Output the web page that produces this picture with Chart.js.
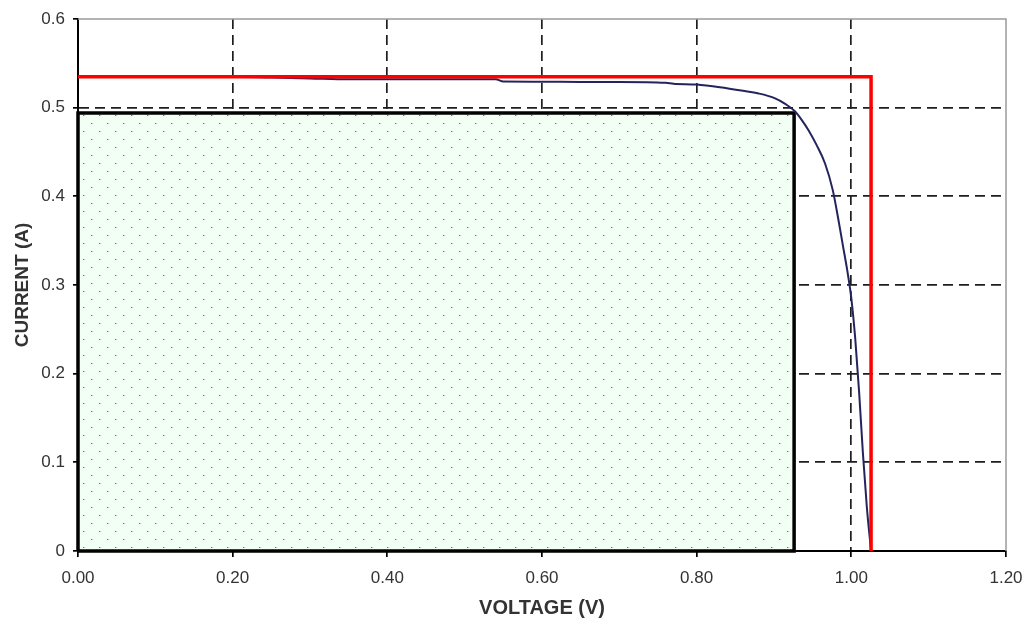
<!DOCTYPE html>
<html>
<head>
<meta charset="utf-8">
<script src="https://cdn.jsdelivr.net/npm/chart.js@4/dist/chart.umd.min.js"></script>
<style>
  html, body { margin: 0; padding: 0; background: #ffffff; }
  #wrap { width: 1027px; height: 623px; position: relative; }
</style>
</head>
<body>
<div id="wrap"><canvas id="c" width="1027" height="623"></canvas></div>
<script>
// ---- Data ----
const voltage = [0, 0.05, 0.10, 0.15, 0.20, 0.25, 0.30, 0.35, 0.40, 0.45, 0.50, 0.54, 0.55, 0.60, 0.65, 0.70, 0.76, 0.77, 0.80, 0.83, 0.86, 0.88, 0.90, 0.915, 0.927, 0.936, 0.945, 0.955, 0.966, 0.976, 0.983, 0.989, 0.995, 1.000, 1.005, 1.010, 1.015, 1.020, 1.0255];
const current = [0.535, 0.535, 0.535, 0.535, 0.535, 0.534, 0.533, 0.532, 0.532, 0.532, 0.532, 0.532, 0.5295, 0.5293, 0.529, 0.529, 0.528, 0.527, 0.526, 0.523, 0.519, 0.516, 0.511, 0.504, 0.496, 0.486, 0.474, 0.458, 0.437, 0.407, 0.375, 0.345, 0.315, 0.285, 0.240, 0.180, 0.110, 0.050, 0];

// Ideal rectangle (Isc, Voc) and max-power rectangle (Imp, Vmp)
const iscVocX = [0, 1.0255, 1.0255];
const iscVocY = [0.535, 0.535, 0];
const mppX = [0, 0, 0.926, 0.926, 0];
const mppY = [0, 0.494, 0.494, 0, 0];
const mppFillX = [0, 0.926];
const mppFillY = [0.494, 0.494];

const xTicks = [0, 0.2, 0.4, 0.6, 0.8, 1.0, 1.2];
const yTicks = [0, 0.1, 0.2, 0.3, 0.4, 0.5, 0.6];
const xTitle = 'VOLTAGE (V)';
const yTitle = 'CURRENT (A)';

const zip = (xs, ys) => xs.map((x, i) => ({ x: x, y: ys[i] }));

// dotted light-green fill pattern
const pc = document.createElement('canvas');
pc.width = 16; pc.height = 16;
const pctx = pc.getContext('2d');
pctx.fillStyle = '#f2fff5';
pctx.fillRect(0, 0, 16, 16);
pctx.fillStyle = '#5f7e66';
pctx.fillRect(3, 3, 1, 1);
pctx.fillRect(11, 11, 1, 1);
pctx.fillStyle = 'rgba(95,126,102,0.4)';
pctx.fillRect(4, 3, 1, 1);
pctx.fillRect(12, 11, 1, 1);
const ctx0 = document.getElementById('c').getContext('2d');
const pattern = ctx0.createPattern(pc, 'repeat');

const frame = {
  id: 'frame',
  beforeDatasetsDraw(chart) {
    const { ctx, chartArea: a } = chart;
    ctx.save();
    ctx.strokeStyle = '#9a9a9a';
    ctx.lineWidth = 1.5;
    ctx.beginPath();
    ctx.moveTo(a.left, a.top);
    ctx.lineTo(a.right, a.top);
    ctx.lineTo(a.right, a.bottom);
    ctx.stroke();
    ctx.restore();
  }
};

const gridColor = (lastVal) => (c) => {
  const v = c.tick ? c.tick.value : null;
  if (v === null) return 'rgba(0,0,0,0)';
  if (Math.abs(v) < 1e-9 || Math.abs(v - lastVal) < 1e-9) return 'rgba(0,0,0,0)';
  return '#1e1e1e';
};

new Chart(ctx0, {
  type: 'scatter',
  data: {
    datasets: [
      {
        label: 'Isc-Voc',
        data: zip(iscVocX, iscVocY),
        showLine: true,
        borderColor: '#ff0000',
        borderWidth: 3.5,
        pointRadius: 0,
        fill: false,
        tension: 0,
        order: 0,
        clip: false
      },
      {
        label: 'I-V curve',
        data: zip(voltage, current),
        showLine: true,
        borderColor: '#24245c',
        borderWidth: 2,
        pointRadius: 0,
        fill: false,
        cubicInterpolationMode: 'monotone',
        order: 1,
        clip: false
      },
      {
        label: 'Max power outline',
        data: zip(mppX, mppY),
        showLine: true,
        borderColor: '#000000',
        borderWidth: 3.5,
        pointRadius: 0,
        fill: false,
        tension: 0,
        order: 2,
        clip: false
      },
      {
        label: 'Max power area',
        data: zip(mppFillX, mppFillY),
        showLine: true,
        borderColor: 'rgba(0,0,0,0)',
        borderWidth: 0,
        backgroundColor: pattern,
        pointRadius: 0,
        fill: 'origin',
        tension: 0,
        order: 3
      }
    ]
  },
  options: {
    responsive: false,
    animation: false,
    devicePixelRatio: 1,
    layout: { padding: { top: 19, right: 21, left: 0, bottom: 0 } },
    plugins: {
      legend: { display: false },
      tooltip: { enabled: false },
      filler: { propagate: false }
    },
    scales: {
      x: {
        type: 'linear',
        min: 0, max: 1.2,
        afterBuildTicks: (s) => { s.ticks = xTicks.map(v => ({ value: v })); },
        ticks: {
          callback: (v) => Number(v).toFixed(2),
          color: '#333333',
          font: { family: "'Liberation Sans', Arial, sans-serif", size: 17 },
          padding: 11,
          maxRotation: 0
        },
        grid: {
          color: gridColor(1.2),
          lineWidth: 1.7,
          drawTicks: true,
          tickLength: 6,
          tickColor: '#000000',
          tickWidth: 1.7,
          tickBorderDash: []
        },
        border: { display: true, color: '#000000', width: 2, dash: [10, 6] },
        title: {
          display: true,
          text: xTitle,
          color: '#333333',
          font: { family: "'Liberation Sans', Arial, sans-serif", size: 20, weight: 'bold' },
          padding: { top: 0, bottom: 3 }
        },
        afterFit: (s) => { s.height = 72; s.paddingLeft = 0; s.paddingRight = 0; }
      },
      y: {
        type: 'linear',
        min: 0, max: 0.6,
        afterBuildTicks: (s) => { s.ticks = yTicks.map(v => ({ value: v })); },
        ticks: {
          callback: (v) => String(Math.round(v * 10) / 10),
          color: '#333333',
          font: { family: "'Liberation Sans', Arial, sans-serif", size: 17 },
          padding: 8
        },
        grid: {
          color: gridColor(0.6),
          lineWidth: 1.7,
          drawTicks: true,
          tickLength: 5,
          tickColor: '#000000',
          tickWidth: 1.7,
          tickBorderDash: []
        },
        border: { display: true, color: '#000000', width: 2, dash: [10, 6] },
        title: {
          display: true,
          text: yTitle,
          color: '#333333',
          font: { family: "'Liberation Sans', Arial, sans-serif", size: 19, weight: 'bold' },
          padding: { top: 11, bottom: 0 }
        },
        afterFit: (s) => { s.width = 78; s.paddingTop = 0; s.paddingBottom = 0; }
      }
    }
  },
  plugins: [frame]
});
</script>
</body>
</html>
